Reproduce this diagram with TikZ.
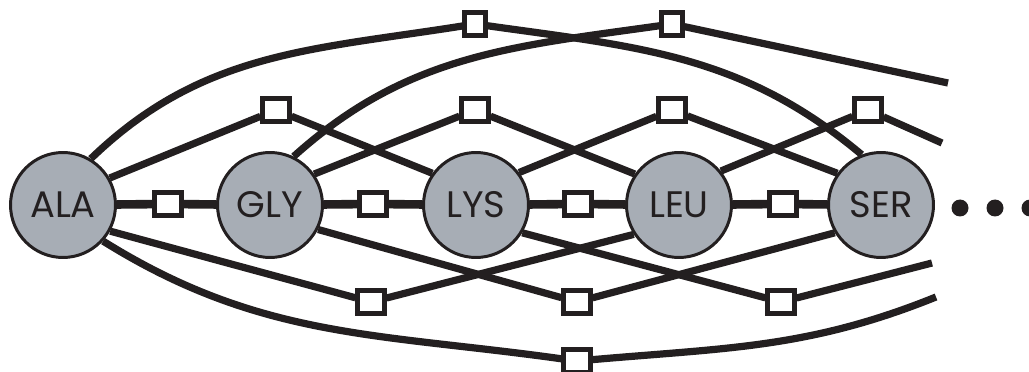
\documentclass[tikz,border=0pt]{standalone}
\usepackage{fontspec}
\newfontfamily\residuefont{Poppins}
\usepackage{tikz}
\definecolor{ink}{RGB}{35,31,32}
\definecolor{residueGray}{RGB}{167,173,181}

\begin{document}
\begin{tikzpicture}
[x=0.02cm,y=0.02cm,
residue/.style={circle,minimum size=2.1cm,inner sep=0pt,draw=ink,line width=1.7pt,fill=residueGray,text=ink,font=\residuefont\fontsize{21}{24}\selectfont},
bond/.style={rectangle,minimum width=0.54cm,minimum height=0.46cm,inner sep=0pt,draw=ink,line width=2.3pt,fill=white},
narrowBond/.style={bond,minimum width=0.42cm},
dot/.style={circle,minimum size=0.34cm,inner sep=0pt,fill=ink},
edge/.style={ink,line width=4.1pt},
chainEdge/.style={ink,line width=4.9pt}]
\useasboundingbox (0,0) rectangle (1029,372);
% residues
\node[residue] (ala) at (63,167) {ALA};
\node[residue] (gly) at (270,167) {GLY};
\node[residue] (lys) at (476,167) {LYS};
\node[residue] (leu) at (679,167) {LEU};
\node[residue] (ser) at (881,167) {SER};
\node[dot] (d1) at (960,164) {};
\node[dot] (d2) at (995,164) {};
\node[dot] (d3) at (1030,164) {};
% bonds on the chain
\node[bond] (m1) at (168,168) {};
\node[bond] (m2) at (373,168) {};
\node[bond] (m3) at (578,168) {};
\node[bond] (m4) at (783,168) {};
% bonds above
\node[bond] (u1) at (276,262) {};
\node[bond] (u2) at (475,262) {};
\node[bond] (u3) at (672,262) {};
\node[bond] (u4) at (868,262) {};
\node[narrowBond] (t1) at (475,348) {};
\node[narrowBond] (t2) at (672,348) {};
% bonds below
\node[bond] (l1) at (371,70) {};
\node[bond] (l2) at (577,70) {};
\node[bond] (l3) at (781,70) {};
\node[bond] (b1) at (577,11) {};
% loose ends
\coordinate (e1) at (948,289);
\coordinate (e2) at (942,229);
\coordinate (e3) at (932,109);
\coordinate (e4) at (936,75);

\draw[chainEdge] (ala) -- (m1);
\draw[chainEdge] (m1) -- (gly);
\draw[chainEdge] (gly) -- (m2);
\draw[chainEdge] (m2) -- (lys);
\draw[chainEdge] (lys) -- (m3);
\draw[chainEdge] (m3) -- (leu);
\draw[chainEdge] (leu) -- (m4);
\draw[chainEdge] (m4) -- (ser);

\draw[edge] (ala.30) -- (u1);
\draw[edge] (u1) -- (lys.144);
\draw[edge] (gly.35) -- (u2);
\draw[edge] (u2) -- (leu.145);
\draw[edge] (lys.37) -- (u3);
\draw[edge] (u3) -- (ser.144);
\draw[edge] (leu.39) -- (u4);
\draw[edge] (u4) -- (e2);

\draw[edge] (ala.-29) -- (l1);
\draw[edge] (l1) -- (leu.213);
\draw[edge] (gly.-27) -- (l2);
\draw[edge] (l2) -- (ser.211);
\draw[edge] (lys.-31) -- (l3);
\draw[edge] (l3) -- (e3);

\draw[edge] (ala.59) to[out=44,in=189] (t1);
\draw[edge] (t1) to[out=-8,in=140] (ser.111);
\draw[edge] (gly.64) to[out=42,in=188] (t2);
\draw[edge] (t2) -- (e1);
\draw[edge] (ala.-42) to[out=-32,in=172] (b1);
\draw[edge] (b1) to[out=5,in=202] (e4);
\end{tikzpicture}
\end{document}
